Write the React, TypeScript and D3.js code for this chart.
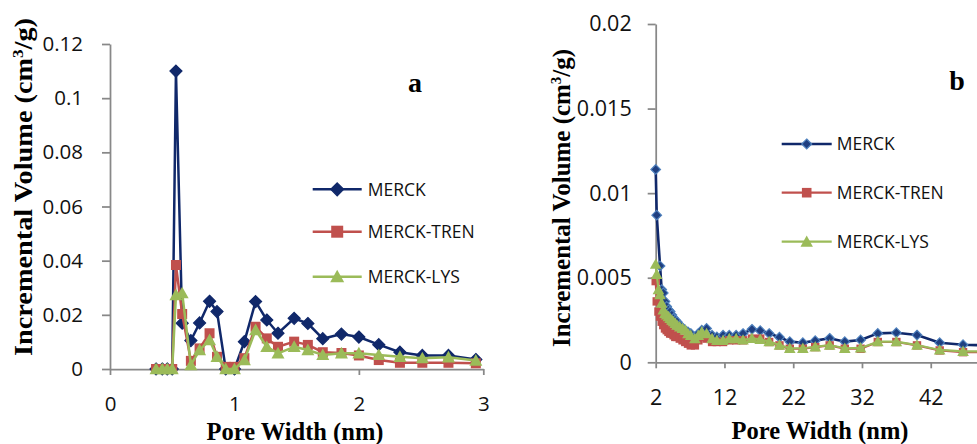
import React, { useEffect, useRef } from 'react';
import * as d3 from 'd3';

const seriesNames = ['MERCK', 'MERCK-TREN', 'MERCK-LYS'];

// panel a (0-3 nm)
const poreA = [0.37, 0.42, 0.46, 0.5, 0.53, 0.58, 0.65, 0.72, 0.8, 0.86, 0.93, 1.0, 1.08, 1.17, 1.26, 1.35, 1.48, 1.59, 1.71, 1.86, 2.0, 2.16, 2.33, 2.51, 2.72, 2.94];
const merckA = [0, 0, 0, 0, 0.11, 0.0169, 0.0105, 0.017, 0.025, 0.0212, 0, 0, 0.0101, 0.0249, 0.0181, 0.0132, 0.0187, 0.0168, 0.0112, 0.0129, 0.0118, 0.009, 0.0062, 0.005, 0.005, 0.0035];
const trenA = [0, 0, 0, 0, 0.0384, 0.0203, 0.003, 0.0076, 0.0132, 0.0045, 0.0008, 0.0008, 0.004, 0.0156, 0.0113, 0.0082, 0.0101, 0.0089, 0.0062, 0.0059, 0.005, 0.0033, 0.0023, 0.0023, 0.0023, 0.0021];
const lysA = [0, 0, 0, 0, 0.0273, 0.028, 0.0015, 0.007, 0.0107, 0.0045, 0, 0, 0.0033, 0.0144, 0.0082, 0.0058, 0.0082, 0.007, 0.0052, 0.0058, 0.0058, 0.0052, 0.0045, 0.004, 0.0043, 0.0031];

// panel b (2-50 nm)
const poreB = [2.0, 2.15, 2.4, 2.63, 2.87, 3.1, 3.35, 3.6, 3.85, 4.1, 4.35, 4.6, 4.85, 5.1, 5.5, 5.9, 6.3, 6.7, 7.1, 7.7, 8.2, 8.7, 9.4, 10.2, 10.9, 11.8, 12.7, 13.7, 14.7, 16.0, 17.2, 18.5, 20.0, 21.5, 23.4, 25.2, 27.3, 29.5, 31.8, 34.3, 37.0, 40.0, 43.3, 46.7, 50.2];
const merckB = [0.0114, 0.0087, null, 0.0057, 0.0043, 0.0041, 0.0036, 0.0033, 0.0031, 0.003, 0.0028, 0.0026, 0.0025, 0.0024, 0.0022, 0.002, 0.0019, 0.0018, 0.0017, 0.0015, 0.0017, 0.0019, 0.002, 0.0016, 0.0015, 0.0016, 0.0016, 0.0016, 0.0017, 0.00195, 0.00187, 0.0017, 0.00148, 0.00122, 0.00116, 0.00128, 0.00142, 0.00122, 0.00132, 0.00171, 0.00175, 0.00161, 0.00116, 0.00104, 0.001];
const trenB = [0.0048, 0.0036, 0.003, 0.0027, 0.0024, 0.0022, 0.002, 0.0019, 0.0018, 0.0017, 0.0017, 0.0016, 0.0015, 0.0015, 0.0014, 0.0013, 0.0012, 0.0011, 0.001, 0.001, 0.0013, 0.0015, 0.0014, 0.0012, 0.0012, 0.0012, 0.0013, 0.0013, 0.0013, 0.0014, 0.0014, 0.0012, 0.001, 0.0008, 0.0008, 0.0009, 0.001, 0.0008, 0.0008, 0.0012, 0.0012, 0.001, 0.0007, 0.0006, 0.0006];
const lysB = [0.0058, 0.0052, 0.0043, 0.004, 0.0035, 0.0031, 0.0029, 0.0028, 0.0027, 0.0026, 0.0025, 0.0024, 0.0023, 0.0022, 0.0021, 0.002, 0.0019, 0.0017, 0.0016, 0.0014, 0.0016, 0.0018, 0.0017, 0.0014, 0.0013, 0.0013, 0.0014, 0.0014, 0.00132, 0.00142, 0.00136, 0.00122, 0.00102, 0.00083, 0.00083, 0.00092, 0.00102, 0.00083, 0.00085, 0.00122, 0.00122, 0.00102, 0.00073, 0.00065, 0.00065];

const yTicksA = [0, 0.02, 0.04, 0.06, 0.08, 0.1, 0.12];
const xTicksA = [0, 1, 2, 3];
const yTicksB = [0, 0.005, 0.01, 0.015, 0.02];
const xTicksB = [2, 12, 22, 32, 42];

const AXIS = '#888888';
const SANS = '"Open Sans", "Noto Sans", sans-serif';
const SERIF = '"Liberation Serif", "Times New Roman", serif';

const markerPath = (type, s) => {
  if (type === 'diamond') return `M0,${-s}L${s},0L0,${s}L${-s},0Z`;
  if (type === 'square') return `M${-s},${-s}H${s}V${s}H${-s}Z`;
  return `M0,${-s}L${s},${s * 0.8}L${-s},${s * 0.8}Z`;
};

const panels = [
  {
    x: poreA, series: [merckA, trenA, lysA],
    xDomain: [0, 3], xRange: [110, 483.3], yDomain: [0, 0.12], yRange: [369, 44],
    xTicks: xTicksA, yTicks: yTicksA, yPad: 19, font: 20.5,
    styles: [
      { color: '#10286a', fill: '#10286a', stroke: '#10286a', type: 'diamond', s: 6, w: 2.5 },
      { color: '#c0504d', fill: '#c0504d', stroke: 'none', type: 'square', s: 5, w: 2.5 },
      { color: '#9bbb59', fill: '#9bbb59', stroke: 'none', type: 'triangle', s: 6.5, w: 2.5 },
    ],
    legend: { x1: 312.7, x2: 361.7, tx: 367.7, ys: [189.3, 231.7, 276.7], sizes: [6.5, 6, 7] },
    letter: { t: 'a', x: 415, y: 92 },
    xTitle: { x: 295, y: 440 },
    yTitle: { x: 32, y: 187, len: 338 },
  },
  {
    x: poreB, series: [merckB, trenB, lysB],
    xDomain: [2, 52], xRange: [655.7, 999.5], yDomain: [0, 0.02], yRange: [362.3, 24],
    xTicks: xTicksB, yTicks: yTicksB, yPad: 16, font: 21.5,
    styles: [
      { color: '#10286a', fill: '#1f3f80', stroke: '#4f81bd', type: 'diamond', s: 4.8, w: 2.6 },
      { color: '#c0504d', fill: '#c0504d', stroke: 'none', type: 'square', s: 4.2, w: 2.2 },
      { color: '#9bbb59', fill: '#9bbb59', stroke: 'none', type: 'triangle', s: 5.8, w: 2.2 },
    ],
    legend: { x1: 781.7, x2: 831.7, tx: 836.7, ys: [144, 192.7, 241.7], sizes: [5, 4.8, 6.2] },
    letter: { t: 'b', x: 957, y: 90 },
    xTitle: { x: 820, y: 439 },
    yTitle: { x: 570, y: 198, len: 298 },
  },
];

const drawPanel = (svg, p) => {
  const x = d3.scaleLinear().domain(p.xDomain).range(p.xRange);
  const y = d3.scaleLinear().domain(p.yDomain).range(p.yRange);

  const gx = svg.append('g')
    .attr('transform', `translate(0,${p.yRange[0]})`)
    .call(d3.axisBottom(x).tickValues(p.xTicks).tickFormat(d => String(d)).tickSize(6).tickSizeOuter(0).tickPadding(21));
  const gy = svg.append('g')
    .attr('transform', `translate(${p.xRange[0]},0)`)
    .call(d3.axisLeft(y).tickValues(p.yTicks).tickFormat(d => String(d)).tickSize(8).tickSizeOuter(0).tickPadding(p.yPad));
  [gx, gy].forEach(g => {
    g.selectAll('path, line').attr('stroke', AXIS).attr('stroke-width', 1.75);
    g.selectAll('text').attr('font-family', SANS).attr('font-size', p.font).attr('fill', '#111');
  });

  const line = d3.line().x(d => x(d[0])).y(d => y(d[1]));
  p.series.forEach((vals, i) => {
    const st = p.styles[i];
    const pts = p.x.map((v, j) => [v, vals[j]]).filter(d => d[1] != null);
    svg.append('path')
      .datum(pts)
      .attr('fill', 'none')
      .attr('stroke', st.color)
      .attr('stroke-width', st.w)
      .attr('stroke-linejoin', 'round')
      .attr('d', line);
    svg.append('g').selectAll('path')
      .data(pts)
      .join('path')
      .attr('d', markerPath(st.type, st.s))
      .attr('transform', d => `translate(${x(d[0])},${y(d[1])})`)
      .attr('fill', st.fill)
      .attr('stroke', st.stroke)
      .attr('stroke-width', 1.2);
  });

  // legend
  const lg = p.legend;
  seriesNames.forEach((name, i) => {
    const st = p.styles[i];
    const ly = lg.ys[i];
    svg.append('line')
      .attr('x1', lg.x1).attr('x2', lg.x2).attr('y1', ly).attr('y2', ly)
      .attr('stroke', st.color).attr('stroke-width', st.w);
    svg.append('path')
      .attr('d', markerPath(st.type, lg.sizes[i]))
      .attr('transform', `translate(${(lg.x1 + lg.x2) / 2},${ly})`)
      .attr('fill', st.fill).attr('stroke', st.stroke).attr('stroke-width', 1.2);
    svg.append('text')
      .attr('x', lg.tx).attr('y', ly + 6.3)
      .attr('font-family', SANS).attr('font-size', 17.5).attr('fill', '#111')
      .text(name);
  });

  svg.append('text')
    .attr('x', p.letter.x).attr('y', p.letter.y)
    .attr('text-anchor', 'middle')
    .attr('font-family', SERIF).attr('font-weight', 'bold').attr('font-size', 28)
    .text(p.letter.t);

  svg.append('text')
    .attr('x', p.xTitle.x).attr('y', p.xTitle.y)
    .attr('text-anchor', 'middle')
    .attr('font-family', SERIF).attr('font-weight', 'bold').attr('font-size', 24.5)
    .text('Pore Width (nm)');

  const yt = svg.append('text')
    .attr('transform', `translate(${p.yTitle.x},${p.yTitle.y}) rotate(-90)`)
    .attr('text-anchor', 'middle')
    .attr('font-family', SERIF).attr('font-weight', 'bold').attr('font-size', 25)
    .attr('textLength', p.yTitle.len)
    .attr('lengthAdjust', 'spacingAndGlyphs');
  yt.append('tspan').text('Incremental Volume (cm');
  yt.append('tspan').attr('font-size', 15).attr('dy', -9).text('3');
  yt.append('tspan').attr('dy', 9).text('/g)');
};

const App = () => {
  const svgRef = useRef(null);

  useEffect(() => {
    const svg = d3.select(svgRef.current);
    svg.selectAll('*').remove();
    panels.forEach(p => drawPanel(svg, p));
  }, []);

  return (
    <div>
      <style>{`body { margin: 0; }`}</style>
      <svg ref={svgRef} width={977} height={444} style={{ display: 'block', background: '#fff' }} />
    </div>
  );
};

export default App;
